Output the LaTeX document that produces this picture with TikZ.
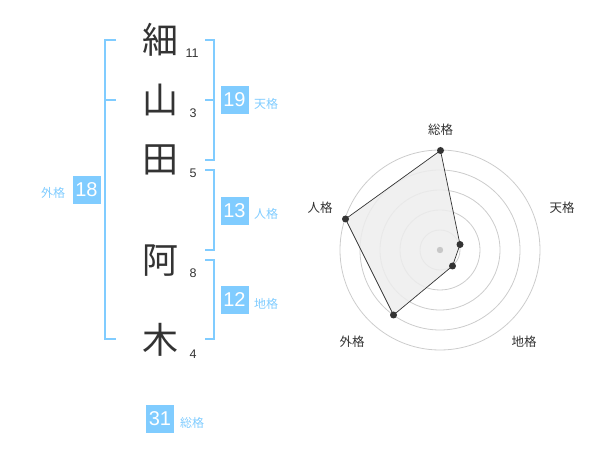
\documentclass[tikz,border=0pt]{standalone}
\usepackage{fontspec}
\setmainfont{Liberation Sans}
\newfontfamily\cjk{Noto Sans CJK JP}
\definecolor{sky}{HTML}{80CCFF}
\definecolor{ink}{HTML}{333333}
\begin{document}
\begin{tikzpicture}[x=1pt,y=-1pt,
  kanji/.style={font=\cjk\fontsize{36}{36}\selectfont, text=ink, inner sep=0},
  strokes/.style={font=\fontsize{12.5}{12.5}\selectfont, text=ink, inner sep=0},
  numbox/.style={fill=sky, text=white, minimum width=28pt, minimum height=28pt, inner sep=0, font=\fontsize{20}{20}\selectfont},
  kaku/.style={font=\cjk\fontsize{12}{12}\selectfont, text=sky, inner sep=0},
  bracket/.style={draw=sky, line width=1.8pt},
  ring/.style={draw=black!20, line width=0.8pt},
  rlabel/.style={font=\cjk\fontsize{12.5}{12.5}\selectfont, text=ink, inner sep=0},
  dot/.style={circle, fill=ink, inner sep=0, minimum size=7pt}]
\useasboundingbox (0,0) rectangle (600,470);
% name characters
\node[kanji] (k1) at (160,40) {細};
\node[kanji] (k2) at (160,100) {山};
\node[kanji] (k3) at (160,160) {田};
\node[kanji] (k4) at (160,261) {阿};
\node[kanji] (k5) at (160,340) {木};
\node[strokes] (s1) at (192,53) {11};
\node[strokes] (s2) at (193,113) {3};
\node[strokes] (s3) at (193,173) {5};
\node[strokes] (s4) at (193,273) {8};
\node[strokes] (s5) at (193,354) {4};
% brackets
\draw[bracket] (116,40) -- (105,40) -- (105,339) -- (116,339);
\draw[bracket] (105,100) -- (116,100);
\draw[bracket] (205,40) -- (214,40) -- (214,160) -- (205,160);
\draw[bracket] (205,100) -- (214,100);
\draw[bracket] (205,170) -- (214,170) -- (214,250) -- (205,250);
\draw[bracket] (205,260) -- (214,260) -- (214,339) -- (205,339);
% boxes
\node[numbox] (gai) at (86.5,190) {18};
\node[kaku] (gail) at (53,193) {外格};
\node[numbox] (ten) at (234.5,100) {19};
\node[kaku] (tenl) at (266,103.5) {天格};
\node[numbox] (jin) at (234.5,211) {13};
\node[kaku] (jinl) at (266,214) {人格};
\node[numbox] (chi) at (234.5,300) {12};
\node[kaku] (chil) at (266,304) {地格};
\node[numbox] (sou) at (160,419) {31};
\node[kaku] (soul) at (192,422.5) {総格};
% radar
\coordinate (c) at (440,250);
\foreach \r in {20,40,60,80,100} \draw[ring] (c) circle (\r);
\coordinate (p1) at (440.5,150.5);
\coordinate (p2) at (460,244.5);
\coordinate (p3) at (452.5,266);
\coordinate (p4) at (393.5,315);
\coordinate (p5) at (345.5,219);
\filldraw[fill=black!7, fill opacity=0.85, draw=ink, line width=0.7pt] (p1) -- (p2) -- (p3) -- (p4) -- (p5) -- cycle;
\fill[black!22] (c) circle (3.2);
\foreach \p in {p1,p2,p3,p4,p5} \node[dot] at (\p) {};
\node[rlabel] (r1) at (440.5,130) {総格};
\node[rlabel] (r2) at (562,208) {天格};
\node[rlabel] (r3) at (524,342) {地格};
\node[rlabel] (r4) at (352,342) {外格};
\node[rlabel] (r5) at (320,208) {人格};
\end{tikzpicture}
\end{document}
